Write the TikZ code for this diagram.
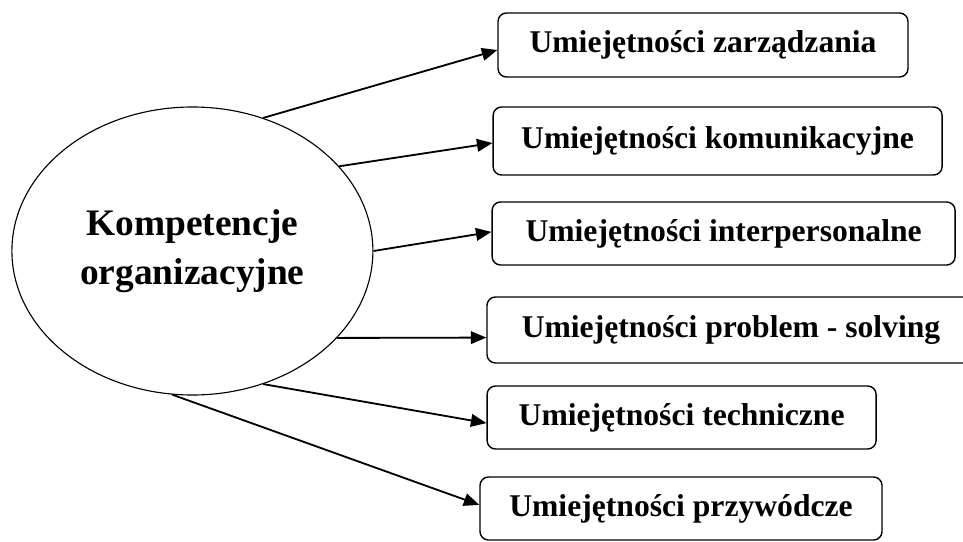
\documentclass[tikz,border=0pt]{standalone}
\usepackage{fontspec}
\setmainfont{Liberation Serif}
\usepackage{tikz}
\usetikzlibrary{arrows.meta, positioning, shapes.geometric}

\begin{document}
\begin{tikzpicture}[
          core/.style={ellipse, draw, line width=0.8pt, inner sep=0pt,
                       minimum width=9.025cm, minimum height=7.2cm, align=center,
                       font=\fontsize{26.6}{34.8}\selectfont\bfseries},
          skill/.style={rectangle, draw, rounded corners=6pt, line width=1pt,
                        font=\fontsize{22.5}{27}\selectfont\bfseries},
          link/.style={-{Triangle[length=11pt,width=9pt]}, line width=1.3pt}]

          \clip (0,0) rectangle (24.075,13.525);

          % Nodes
          \node[core] (ko) at (4.81,7.25) {Kompetencje\\organizacyjne};
          \node[skill, minimum width=10.25cm, minimum height=1.6cm] (zarz) at (17.575,12.4) {Umiejętności zarządzania};
          \node[skill, minimum width=11.225cm, minimum height=1.7cm] (komu) at (17.94,10.0) {Umiejętności komunikacyjne};
          \node[skill, minimum width=11.575cm, minimum height=1.575cm] (inter) at (18.09,7.6875) {Umiejętności interpersonalne};
          \node[skill, minimum width=12.2cm, minimum height=1.65cm] (probl) at (18.275,5.275) {Umiejętności problem - solving};
          \node[skill, minimum width=9.725cm, minimum height=1.575cm] (tech) at (17.04,3.0875) {Umiejętności techniczne\hspace{0.35cm}};
          \node[skill, minimum width=10.05cm, minimum height=1.575cm] (przyw) at (17.025,0.8125) {Umiejętności przywódcze};

          % Arrows
          \draw[link] (ko.62) -- ([yshift=-0.125cm]zarz.west);
          \draw[link] (ko.30) -- ([yshift=-0.05cm]komu.west);
          \draw[link] (ko.0) -- ([yshift=0.04cm]inter.west);
          \draw[link] (ko.-31) -- ([yshift=-0.19cm]probl.west);
          \draw[link] (ko.-62) -- ([yshift=-0.14cm]tech.west);
          \draw[link] (ko.-98) -- ([yshift=0.09cm]przyw.west);
        \end{tikzpicture}
\end{document}
